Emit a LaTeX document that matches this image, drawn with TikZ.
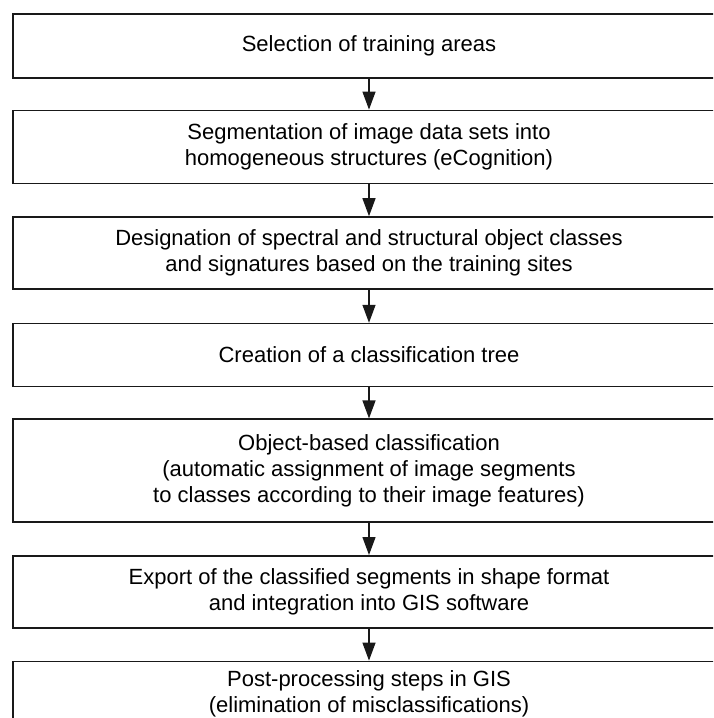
\documentclass[tikz,border=0pt]{standalone}
\usepackage{fontspec}
\setmainfont{Liberation Sans}
\usetikzlibrary{positioning,arrows.meta}
\definecolor{fcLine}{RGB}{25,25,25}
\tikzset{
    base/.style={font=\fontsize{22}{26}\selectfont, align=center},
    stage/.style={base, rectangle, draw=fcLine, line width=1.6pt, fill=white,
                  minimum width=712pt, inner sep=0pt},
    flow/.style={-{Triangle[length=18pt,width=13pt]}, line width=1.3pt, color=fcLine}
}
\begin{document}
\begin{tikzpicture}[node distance=32pt]
  % frame of the page, the boxes run past its right and bottom edges
  \path[use as bounding box, clip] (0,0) rectangle (713pt,-718pt);

  % Stages, top to bottom
  \node[stage, minimum height=64pt, anchor=north] (sel) at (369pt,-13pt) {Selection of training areas};
  \node[stage, minimum height=73pt, below=31pt of sel] (seg) {Segmentation of image data sets into\\homogeneous structures (eCognition)};
  \node[stage, minimum height=72pt, below=of seg] (des) {Designation of spectral and structural object classes\\and signatures based on the training sites};
  \node[stage, minimum height=63pt, below=33pt of des] (tree) {Creation of a classification tree};
  \node[stage, minimum height=103pt, below=31pt of tree] (obc) {Object-based classification\\(automatic assignment of image segments\\to classes according to their image features)};
  \node[stage, minimum height=72pt, below=of obc] (exp) {Export of the classified segments in shape format\\and integration into GIS software};
  \node[stage, minimum height=64pt, below=of exp] (post) {Post-processing steps in GIS\\(elimination of misclassifications)};

  % Arrows
  \draw[flow] (sel) -- (seg);
  \draw[flow] (seg) -- (des);
  \draw[flow] (des) -- (tree);
  \draw[flow] (tree) -- (obc);
  \draw[flow] (obc) -- (exp);
  \draw[flow] (exp) -- (post);
\end{tikzpicture}
\end{document}
